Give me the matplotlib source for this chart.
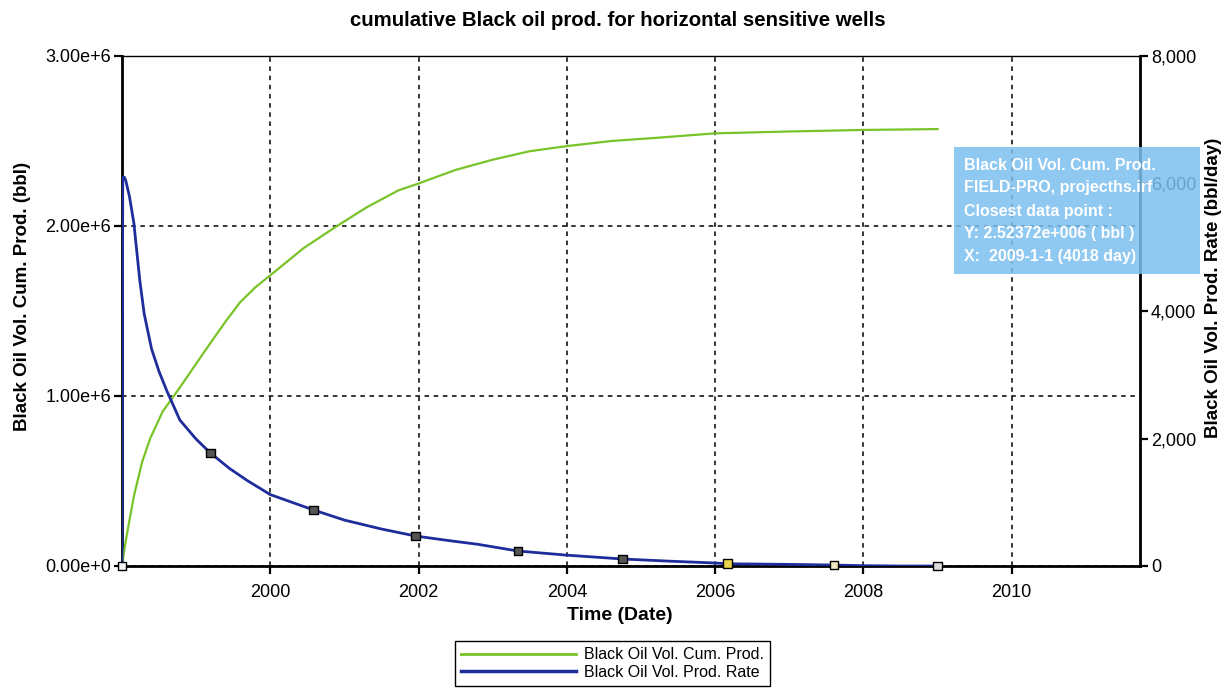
import numpy as np
import matplotlib
matplotlib.use("Agg")
import matplotlib.pyplot as plt
from matplotlib.lines import Line2D
from matplotlib.patches import Rectangle
from matplotlib.ticker import FuncFormatter

plt.rcParams['font.family'] = ['Liberation Sans', 'DejaVu Sans']

# cumulative production (bbl)
cum_years = [1998.0, 1998.04, 1998.08, 1998.16, 1998.27, 1998.38, 1998.55, 1998.78,
             1999.0, 1999.19, 1999.4, 1999.59, 1999.8, 2000.0, 2000.45, 2000.9,
             2001.3, 2001.73, 2002.0, 2002.5, 2003.0, 2003.5, 2004.0, 2004.6,
             2005.25, 2006.0, 2007.0, 2008.0, 2009.0]
cum_vals = [0.0, 0.12e6, 0.22e6, 0.41e6, 0.61e6, 0.75e6, 0.91e6, 1.05e6,
            1.19e6, 1.31e6, 1.44e6, 1.55e6, 1.64e6, 1.71e6, 1.87e6, 2.00e6,
            2.11e6, 2.21e6, 2.25e6, 2.33e6, 2.39e6, 2.44e6, 2.47e6, 2.50e6,
            2.52e6, 2.545e6, 2.556e6, 2.565e6, 2.57e6]

# production rate (bbl/day)
rate_years = [1998.0, 1998.01, 1998.03, 1998.05, 1998.1, 1998.16, 1998.24, 1998.3,
              1998.4, 1998.5, 1998.6, 1998.78, 1999.0, 1999.19, 1999.45, 1999.69,
              2000.0, 2000.58, 2001.0, 2001.5, 2001.96, 2002.4, 2002.8, 2003.34,
              2004.0, 2004.75, 2005.4, 2006.0, 2006.17, 2007.0, 2007.6, 2008.0,
              2008.5, 2009.0]
rate_vals = [0, 6100, 6100, 6050, 5800, 5380, 4480, 3950,
             3400, 3050, 2760, 2290, 1990, 1775, 1530, 1340,
             1120, 880, 720, 580, 470, 400, 340, 235,
             170, 110, 75, 47, 35, 25, 15, 5,
             0, 0]

# square markers on the rate curve
mark_years = [1998.0, 1999.19, 2000.58, 2001.96, 2003.34, 2004.75, 2006.17, 2007.6, 2009.0]
mark_vals = [0, 1775, 880, 470, 235, 110, 35, 15, 0]
mark_faces = ['#f4f4f4', '#555555', '#555555', '#555555', '#555555', '#555555',
              '#e8d64a', '#f0e8c0', '#dcdcdc']

green = '#78c428'
blue = '#1f2d9c'

fig = plt.figure(figsize=(12.26, 6.89), dpi=100)
ax = fig.add_axes([122/1226, 1 - 566/689, (1140-122)/1226, (566-56)/689])
ax2 = ax.twinx()

ax.plot(cum_years, cum_vals, color=green, lw=1.6, zorder=3)
ax2.plot(rate_years, rate_vals, color=blue, lw=2.0, zorder=3)
ax2.scatter(mark_years, mark_vals, marker='s', s=38, c=mark_faces,
            edgecolors='black', linewidths=1.0, zorder=4, clip_on=False)

ax.set_xlim(1998.0, 2011.73)
ax.set_ylim(0, 3e6)
ax2.set_ylim(0, 8000)
ax.set_xticks([2000, 2002, 2004, 2006, 2008, 2010])
ax.set_yticks([0, 1e6, 2e6, 3e6])
ax2.set_yticks([0, 2000, 4000, 6000, 8000])
ax.yaxis.set_major_formatter(FuncFormatter(lambda v, p: '%.2fe+%d' % (v / 10**int(np.log10(v)), int(np.log10(v))) if v > 0 else '0.00e+0'))
ax2.yaxis.set_major_formatter(FuncFormatter(lambda v, p: '{:,.0f}'.format(v)))

ax.grid(True, color='black', linestyle=(0, (3, 3)), linewidth=1.1)
for s in ['left', 'bottom']:
    ax.spines[s].set_linewidth(2)
ax.spines['top'].set_linewidth(1)
ax2.spines['right'].set_linewidth(2)
for s in ['left', 'bottom', 'top']:
    ax2.spines[s].set_visible(False)
ax.tick_params(axis='x', direction='out', length=6, width=1.6, pad=7, labelsize=13)
ax.tick_params(axis='y', direction='out', length=6, width=1.6, pad=2, labelsize=13)
ax2.tick_params(axis='y', direction='out', length=6, width=1.6, pad=2, labelsize=13)

ax.set_xlabel('Time (Date)', fontsize=14, fontweight='bold', va='top')
ax.xaxis.set_label_coords(0.489, -0.08)
ax.set_ylabel('Black Oil Vol. Cum. Prod. (bbl)', fontsize=13.5, fontweight='bold')
ax.yaxis.set_label_coords(-0.089, 0.529)
ax2.set_ylabel('Black Oil Vol. Prod. Rate (bbl/day)', fontsize=13.5, fontweight='bold')
ax2.yaxis.set_label_coords(1.064, 0.545)
fig.text(0.504, 0.970, 'cumulative Black oil prod. for horizontal sensitive wells',
         ha='center', va='center', fontsize=14.7, fontweight='bold')

# tooltip box
fig.patches.append(Rectangle((954/1226, 1 - 274/689), 246/1226, 127/689,
                             transform=fig.transFigure, facecolor='#7cbfee',
                             alpha=0.85, edgecolor='none', zorder=10))
tip = ['Black Oil Vol. Cum. Prod.', 'FIELD-PRO, projecths.irf', 'Closest data point :',
       'Y: 2.52372e+006 ( bbl )', 'X:  2009-1-1 (4018 day)']
for i, t in enumerate(tip):
    fig.text(964/1226, 1 - (165 + i*23)/689, t, color='white', fontsize=11.5,
             fontweight='bold', va='center', ha='left', zorder=11)

handles = [Line2D([], [], color=green, lw=2), Line2D([], [], color=blue, lw=2.5)]
fig.legend(handles, ['Black Oil Vol. Cum. Prod.', 'Black Oil Vol. Prod. Rate'],
           loc='upper left', bbox_to_anchor=(455/1226, 1 - 641/689), fontsize=11.5,
           frameon=True, fancybox=False, edgecolor='black', framealpha=1,
           handlelength=7.2, handletextpad=0.45, labelspacing=0.15,
           borderpad=0.4, borderaxespad=0)

fig.savefig('out.png', dpi=100)
